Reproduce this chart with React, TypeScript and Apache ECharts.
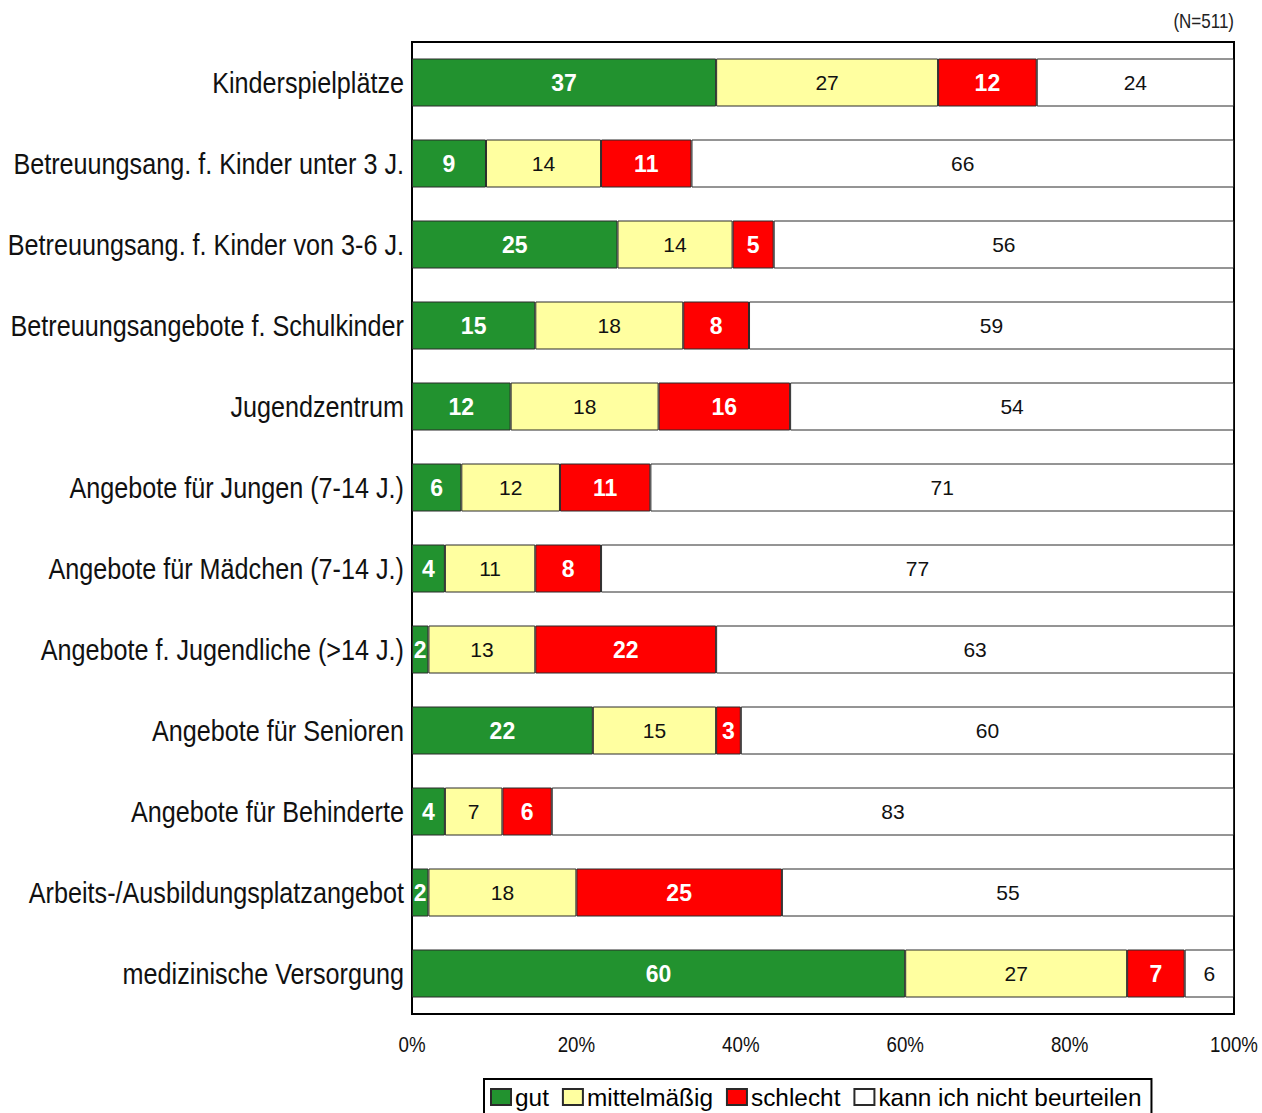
import React, { useEffect, useRef } from "react";
import * as echarts from "echarts";

const categories = [
  "Kinderspielplätze",
  "Betreuungsang. f. Kinder unter 3 J.",
  "Betreuungsang. f. Kinder von 3-6 J.",
  "Betreuungsangebote f. Schulkinder",
  "Jugendzentrum",
  "Angebote für Jungen (7-14 J.)",
  "Angebote für Mädchen (7-14 J.)",
  "Angebote f. Jugendliche (>14 J.)",
  "Angebote für Senioren",
  "Angebote für Behinderte",
  "Arbeits-/Ausbildungsplatzangebot",
  "medizinische Versorgung",
];
const gut = [37, 9, 25, 15, 12, 6, 4, 2, 22, 4, 2, 60];
const mittel = [27, 14, 14, 18, 18, 12, 11, 13, 15, 7, 18, 27];
const schlecht = [12, 11, 5, 8, 16, 11, 8, 22, 3, 6, 25, 7];
const kann = [24, 66, 56, 59, 54, 71, 77, 63, 60, 83, 55, 6];
const seriesNames = ["gut", "mittelmäßig", "schlecht", "kann ich nicht beurteilen"];
const xTicks = [0, 20, 40, 60, 80, 100];
const nLabel = "(N=511)";

const FONT = "'Liberation Sans', Arial, sans-serif";

export default function App() {
  const ref = useRef<HTMLDivElement>(null);
  useEffect(() => {
    document.body.style.margin = "0";
    const chart = echarts.init(ref.current!, null, { renderer: "svg" });
    const mk = (name: string, data: number[], color: string, white: boolean) => ({
      name,
      type: "bar",
      stack: "all",
      data,
      barWidth: 48,
      itemStyle: { color, borderColor: "#2a2a2a", borderWidth: 1 },
      label: {
        show: true,
        position: "inside",
        color: white ? "#ffffff" : "#111111",
        fontWeight: white ? "bold" : "normal",
        fontSize: white ? 23 : 21,
        fontFamily: FONT,
      },
    });
    chart.setOption({
      animation: false,
      backgroundColor: "#ffffff",
      grid: {
        left: 412,
        top: 42,
        width: 822,
        height: 972,
        show: true,
        borderColor: "#000000",
        borderWidth: 2,
        backgroundColor: "transparent",
        containLabel: false,
        outerBoundsMode: "none",
      },
      xAxis: {
        type: "value",
        min: 0,
        max: 100,
        interval: 20,
        axisLabel: { show: false },
        axisLine: { show: false },
        axisTick: { show: false },
        splitLine: { show: false },
      },
      yAxis: {
        type: "category",
        data: categories,
        inverse: true,
        axisLabel: { show: false },
        axisLine: { show: true, lineStyle: { color: "#000", width: 2 } },
        axisTick: { show: false },
      },
      legend: {
        left: 484,
        top: 1079,
        icon: "rect",
        itemWidth: 20,
        itemHeight: 16,
        itemGap: 13,
        borderColor: "#000",
        borderWidth: 2,
        padding: [6, 10, 12, 6],
        textStyle: { fontSize: 24.4, fontFamily: FONT, color: "#000", padding: [0, 0, 0, -1] },
        data: seriesNames,
      },
      series: [
        mk(seriesNames[0], gut, "#22922f", true),
        mk(seriesNames[1], mittel, "#ffffa0", false),
        mk(seriesNames[2], schlecht, "#ff0000", true),
        mk(seriesNames[3], kann, "#ffffff", false),
      ],
    });

    const graphics: any[] = [];
    categories.forEach((c) => {
      const y = chart.convertToPixel({ yAxisIndex: 0 }, c) as number;
      graphics.push({
        type: "text",
        x: 404,
        y,
        scaleX: 0.84,
        style: {
          text: c,
          fontSize: 30,
          fontFamily: FONT,
          fill: "#111",
          align: "right",
          verticalAlign: "middle",
        },
      });
    });
    xTicks.forEach((t) => {
      const x = chart.convertToPixel({ xAxisIndex: 0 }, t) as number;
      graphics.push({
        type: "text",
        x,
        y: 1044,
        scaleX: 0.85,
        style: {
          text: t + "%",
          fontSize: 22,
          fontFamily: FONT,
          fill: "#111",
          align: "center",
          verticalAlign: "middle",
        },
      });
    });
    graphics.push({
      type: "text",
      x: 1234,
      y: 21,
      scaleX: 0.85,
      style: {
        text: nLabel,
        fontSize: 20,
        fontFamily: FONT,
        fill: "#222",
        align: "right",
        verticalAlign: "middle",
      },
    });
    chart.setOption({ graphic: graphics });
    return () => chart.dispose();
  }, []);
  return <div ref={ref} style={{ position: "absolute", left: 0, top: 0, width: 1262, height: 1113 }} />;
}
